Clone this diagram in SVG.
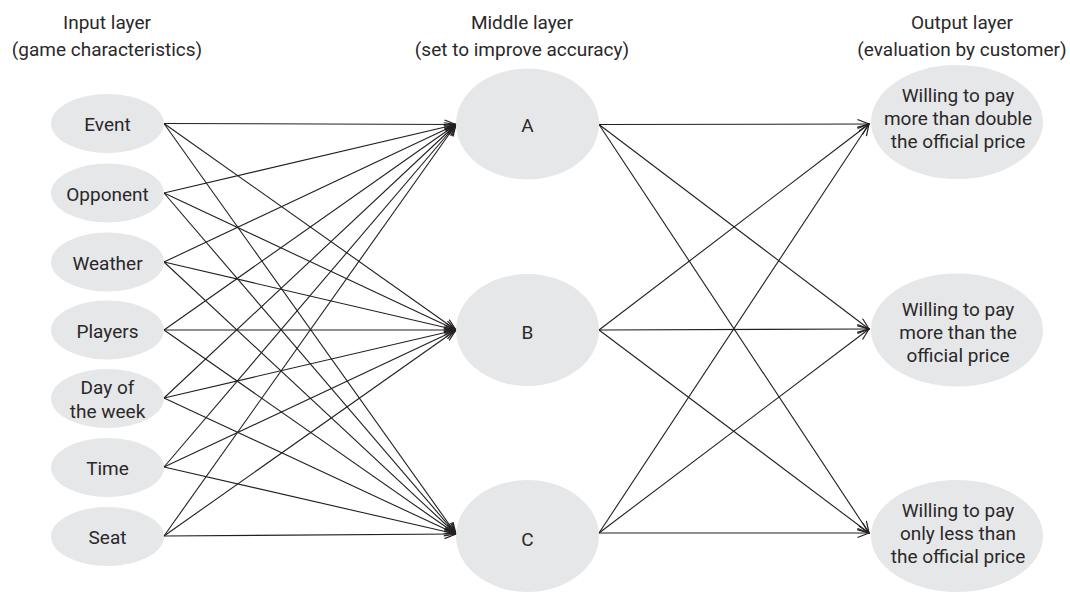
<svg xmlns="http://www.w3.org/2000/svg" width="1070" height="592" viewBox="0 0 1070 592">
<style>
  text { font-family: Roboto, "Noto Sans", "Liberation Sans", sans-serif; font-size: 19px; font-weight: 400; fill: #2b2829; text-anchor: middle; }
  .node { fill: #e6e7e8; stroke: none; }
  .edge { stroke: #231f20; stroke-width: 1.1; fill: none; marker-end: url(#arr); }
</style>
<defs>
  <marker id="arr" markerUnits="userSpaceOnUse" markerWidth="13" markerHeight="11" refX="12" refY="5" orient="auto">
    <path d="M0.5,0.5 L12,5 L0.5,9.5" fill="none" stroke="#231f20" stroke-width="1.2"/>
  </marker>
</defs>
<rect width="1070" height="592" fill="#ffffff"/>

<g id="headers">
  <text x="107" y="29">Input layer</text>
  <text x="107" y="55.5">(game characteristics)</text>
  <text x="522" y="29">Middle layer</text>
  <text x="522" y="55.5">(set to improve accuracy)</text>
  <text x="962" y="29">Output layer</text>
  <text x="962" y="55.5">(evaluation by customer)</text>
</g>

<g id="connectors">
  <line class="edge" x1="164" y1="123.5" x2="456" y2="124.5"/>
  <line class="edge" x1="164" y1="123.5" x2="456" y2="330"/>
  <line class="edge" x1="164" y1="123.5" x2="456" y2="534"/>
  <line class="edge" x1="164" y1="193" x2="456" y2="124.5"/>
  <line class="edge" x1="164" y1="193" x2="456" y2="330"/>
  <line class="edge" x1="164" y1="193" x2="456" y2="534"/>
  <line class="edge" x1="164" y1="262" x2="456" y2="124.5"/>
  <line class="edge" x1="164" y1="262" x2="456" y2="330"/>
  <line class="edge" x1="164" y1="262" x2="456" y2="534"/>
  <line class="edge" x1="164" y1="330" x2="456" y2="124.5"/>
  <line class="edge" x1="164" y1="330" x2="456" y2="330"/>
  <line class="edge" x1="164" y1="330" x2="456" y2="534"/>
  <line class="edge" x1="164" y1="398" x2="456" y2="124.5"/>
  <line class="edge" x1="164" y1="398" x2="456" y2="330"/>
  <line class="edge" x1="164" y1="398" x2="456" y2="534"/>
  <line class="edge" x1="164" y1="467" x2="456" y2="124.5"/>
  <line class="edge" x1="164" y1="467" x2="456" y2="330"/>
  <line class="edge" x1="164" y1="467" x2="456" y2="534"/>
  <line class="edge" x1="164" y1="536" x2="456" y2="124.5"/>
  <line class="edge" x1="164" y1="536" x2="456" y2="330"/>
  <line class="edge" x1="164" y1="536" x2="456" y2="534"/>

  <line class="edge" x1="599" y1="124.5" x2="869" y2="124"/>
  <line class="edge" x1="599" y1="124.5" x2="869" y2="329"/>
  <line class="edge" x1="599" y1="124.5" x2="869" y2="533"/>
  <line class="edge" x1="599" y1="330" x2="869" y2="124"/>
  <line class="edge" x1="599" y1="330" x2="869" y2="329"/>
  <line class="edge" x1="599" y1="330" x2="869" y2="533"/>
  <line class="edge" x1="599" y1="533" x2="869" y2="124"/>
  <line class="edge" x1="599" y1="533" x2="869" y2="329"/>
  <line class="edge" x1="599" y1="533" x2="869" y2="533"/>
</g>

<g id="in-event"><ellipse class="node" cx="107.5" cy="123.5" rx="56.5" ry="29.5"/><text x="107.5" y="131">Event</text></g>
<g id="in-opponent"><ellipse class="node" cx="107.5" cy="193" rx="56.5" ry="29.5"/><text x="107.5" y="200.5">Opponent</text></g>
<g id="in-weather"><ellipse class="node" cx="107.5" cy="262" rx="56.5" ry="29.5"/><text x="107.5" y="269.5">Weather</text></g>
<g id="in-players"><ellipse class="node" cx="107.5" cy="330" rx="56.5" ry="29.5"/><text x="107.5" y="337.5">Players</text></g>
<g id="in-day"><ellipse class="node" cx="107.5" cy="398.5" rx="56.5" ry="29.5"/><text x="107.5" y="393.5">Day of</text><text x="107.5" y="417.5">the week</text></g>
<g id="in-time"><ellipse class="node" cx="107.5" cy="467.5" rx="56.5" ry="29.5"/><text x="107.5" y="475">Time</text></g>
<g id="in-seat"><ellipse class="node" cx="107.5" cy="536.5" rx="56.5" ry="29.5"/><text x="107.5" y="544">Seat</text></g>

<g id="mid-a"><ellipse class="node" cx="527.5" cy="124" rx="71.5" ry="55.5"/><text x="527.5" y="132">A</text></g>
<g id="mid-b"><ellipse class="node" cx="527.5" cy="330" rx="71.5" ry="56"/><text x="527.5" y="338.5">B</text></g>
<g id="mid-c"><ellipse class="node" cx="527.5" cy="536" rx="71.5" ry="56"/><text x="527.5" y="545.5">C</text></g>

<g id="out-double"><ellipse class="node" cx="957" cy="122" rx="86" ry="57"/><text x="958" y="102">Willing to pay</text><text x="958" y="125">more than double</text><text x="958" y="147.5">the official price</text></g>
<g id="out-more"><ellipse class="node" cx="957" cy="330" rx="86" ry="56.5"/><text x="958" y="315.5">Willing to pay</text><text x="958" y="338.5">more than the</text><text x="958" y="361.5">official price</text></g>
<g id="out-less"><ellipse class="node" cx="957" cy="536" rx="86" ry="56"/><text x="958" y="516.5">Willing to pay</text><text x="958" y="540">only less than</text><text x="958" y="563">the official price</text></g>
</svg>
